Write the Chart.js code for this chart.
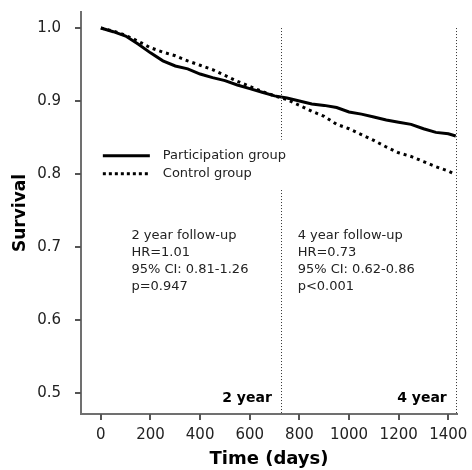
<!DOCTYPE html>
<html>
<head>
<meta charset="utf-8">
<script src="https://cdn.jsdelivr.net/npm/chart.js@4/dist/chart.umd.min.js"></script>
<style>
  html, body { margin: 0; padding: 0; background: #fff; }
  #wrap { width: 472px; height: 470px; }
</style>
</head>
<body>
<div id="wrap"><canvas id="survival-chart"></canvas></div>
<script>
// days and survival
const days = [0, 50, 100, 150, 200, 250, 300, 350, 400, 450, 500, 550, 600, 650, 700,
  750, 800, 850, 900, 950, 1000, 1050, 1100, 1150, 1200, 1250, 1300, 1350, 1400, 1430];
const participation = [1.000, 0.995, 0.989, 0.978, 0.966, 0.955, 0.948, 0.944, 0.937, 0.932,
  0.928, 0.922, 0.917, 0.912, 0.907, 0.904, 0.900, 0.896, 0.894, 0.891, 0.885, 0.882, 0.878,
  0.874, 0.871, 0.868, 0.862, 0.857, 0.855, 0.852];
const control = [1.000, 0.996, 0.990, 0.982, 0.973, 0.967, 0.962, 0.955, 0.949, 0.943,
  0.935, 0.927, 0.920, 0.913, 0.907, 0.902, 0.894, 0.886, 0.879, 0.868, 0.862, 0.854, 0.846,
  0.837, 0.829, 0.824, 0.817, 0.810, 0.804, 0.799];
const seriesNames = ['Participation group', 'Control group'];

const xTicks = [0, 200, 400, 600, 800, 1000, 1200, 1400];
const yTicks = [0.5, 0.6, 0.7, 0.8, 0.9, 1.0];

// follow-up cut points (days) and their labels
const cutDays = [725, 1430];
const cutLabels = ['2 year', '4 year'];

const noteLines = [
  ['2 year follow-up', 'HR=1.01', '95% CI: 0.81-1.26', 'p=0.947'],
  ['4 year follow-up', 'HR=0.73', '95% CI: 0.62-0.86', 'p<0.001']
];
const noteDays = [123, 793];
const noteTop = 0.716;

const FONT = '"DejaVu Sans", Verdana, sans-serif';
const AXIS = '#707070';

const toPoints = (ys) => ys.map((y, i) => ({ x: days[i], y: y }));

const overlay = {
  id: 'overlay',
  afterDraw(chart) {
    const ctx = chart.ctx;
    const xs = chart.scales.x, ys = chart.scales.y;
    const area = chart.chartArea;
    ctx.save();

    // tick marks outside the axes
    ctx.strokeStyle = '#555';
    ctx.lineWidth = 2;
    xTicks.forEach((v) => {
      const px = Math.round(xs.getPixelForValue(v));
      ctx.beginPath();
      ctx.moveTo(px, area.bottom);
      ctx.lineTo(px, area.bottom + 6);
      ctx.stroke();
    });
    yTicks.forEach((v) => {
      const py = Math.round(ys.getPixelForValue(v));
      ctx.beginPath();
      ctx.moveTo(area.left - 6, py);
      ctx.lineTo(area.left, py);
      ctx.stroke();
    });

    // dotted follow-up lines
    ctx.strokeStyle = '#333';
    ctx.lineWidth = 1;
    ctx.setLineDash([1, 2]);
    cutDays.forEach((d) => {
      const px = Math.round(xs.getPixelForValue(d)) + 0.5;
      ctx.beginPath();
      ctx.moveTo(px, ys.getPixelForValue(1.0));
      ctx.lineTo(px, area.bottom);
      ctx.stroke();
    });
    ctx.setLineDash([]);

    // legend on a white box
    const lx = xs.getPixelForValue(8);
    const ly = ys.getPixelForValue(0.825);
    ctx.fillStyle = '#fff';
    ctx.fillRect(lx - 3, ly - 16, 200, 50);
    ctx.strokeStyle = '#000';
    ctx.lineWidth = 3;
    ctx.beginPath();
    ctx.moveTo(lx, ly); ctx.lineTo(lx + 47, ly);
    ctx.stroke();
    ctx.setLineDash([3, 3]);
    ctx.beginPath();
    ctx.moveTo(lx, ly + 18); ctx.lineTo(lx + 47, ly + 18);
    ctx.stroke();
    ctx.setLineDash([]);
    ctx.fillStyle = '#222';
    ctx.font = '13px ' + FONT;
    ctx.textBaseline = 'middle';
    ctx.textAlign = 'left';
    ctx.fillText(seriesNames[0], lx + 60, ly);
    ctx.fillText(seriesNames[1], lx + 60, ly + 18);

    // HR notes
    noteLines.forEach((lines, k) => {
      const nx = xs.getPixelForValue(noteDays[k]);
      const ny = ys.getPixelForValue(noteTop);
      lines.forEach((t, i) => ctx.fillText(t, nx, ny + i * 17));
    });

    // bold year labels next to cut lines
    ctx.font = 'bold 14px ' + FONT;
    ctx.fillStyle = '#000';
    ctx.textAlign = 'right';
    cutDays.forEach((d, i) => {
      ctx.fillText(cutLabels[i], xs.getPixelForValue(d) - 9, ys.getPixelForValue(0.493));
    });
    ctx.restore();
  }
};

const ctx = document.getElementById('survival-chart').getContext('2d');
new Chart(ctx, {
  type: 'line',
  data: {
    datasets: [
      {
        label: seriesNames[0],
        data: toPoints(participation),
        borderColor: '#000',
        borderWidth: 3,
        pointRadius: 0,
        tension: 0
      },
      {
        label: seriesNames[1],
        data: toPoints(control),
        borderColor: '#000',
        borderWidth: 3,
        borderDash: [3, 4],
        pointRadius: 0,
        tension: 0
      }
    ]
  },
  options: {
    responsive: true,
    maintainAspectRatio: false,
    animation: false,
    layout: { padding: { left: 0, right: 15, top: 12, bottom: 0 } },
    plugins: {
      legend: { display: false },
      tooltip: { enabled: false }
    },
    scales: {
      x: {
        type: 'linear',
        min: -80,
        max: 1435,
        afterBuildTicks: (scale) => { scale.ticks = xTicks.map((v) => ({ value: v })); },
        afterFit: (scale) => {
          scale.height = 56;
          scale.paddingLeft = 0;
          scale.paddingRight = 0;
        },
        border: { display: true, color: AXIS, width: 2 },
        grid: { display: false },
        ticks: {
          color: '#222',
          padding: 4,
          font: { family: FONT, size: 15 },
          callback: (v) => String(v)
        },
        title: {
          display: true,
          text: 'Time (days)',
          color: '#000',
          padding: { top: 0, bottom: 0 },
          font: { family: FONT, size: 18, weight: 'bold' }
        }
      },
      y: {
        min: 0.471,
        max: 1.022,
        afterBuildTicks: (scale) => { scale.ticks = yTicks.map((v) => ({ value: v })); },
        afterFit: (scale) => {
          scale.width = 81;
          scale.paddingTop = 0;
          scale.paddingBottom = 0;
        },
        border: { display: true, color: AXIS, width: 2 },
        grid: { display: false },
        ticks: {
          color: '#222',
          padding: 12,
          font: { family: FONT, size: 15 },
          callback: (v) => Number(v).toFixed(1)
        },
        title: {
          display: true,
          text: 'Survival',
          color: '#000',
          padding: { top: 10, bottom: 0 },
          font: { family: FONT, size: 17, weight: 'bold' }
        }
      }
    }
  },
  plugins: [overlay]
});
</script>
</body>
</html>
